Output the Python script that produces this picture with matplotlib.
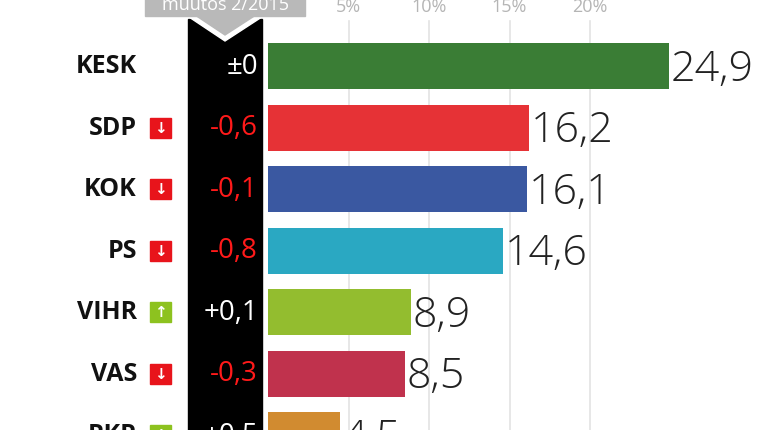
import matplotlib.pyplot as plt
from matplotlib.patches import Rectangle, Polygon

parties = ["KESK", "SDP", "KOK", "PS", "VIHR", "VAS", "RKP"]
support = [24.9, 16.2, 16.1, 14.6, 8.9, 8.5, 4.5]
changes = ["±0", "-0,6", "-0,1", "-0,8", "+0,1", "-0,3", "+0,5"]
trend = [0, -1, -1, -1, 1, -1, 1]
colors = ["#3a7d35", "#e63236", "#3a58a1", "#2aa8c2", "#93bd2f", "#c0324d", "#d18b30"]
ticks = [5, 10, 15, 20]
header = "muutos 2/2015"

W, H = 767, 431
px = 16.1      # pixels per percent
x0 = 268       # pixel of 0 %
y0, dy = 67, 61.5


def X(p):
    return (p - x0) / px


def Y(p):
    return (p - y0) / dy


fig = plt.figure(figsize=(W / 100, H / 100), dpi=100)
ax = fig.add_axes([0, 0, 1, 1])
ax.set_xlim(X(0), X(W))
ax.set_ylim(Y(H), Y(0))
ax.axis("off")
plt.rcParams["font.family"] = ["Open Sans", "DejaVu Sans"]

for t in ticks:
    ax.plot([t, t], [Y(22), Y(H)], color="#e3e3e3", lw=1.2, zorder=0)
    ax.text(t, Y(7), f"{t}%", ha="center", va="center", color="#b5b5b5", fontsize=13)

# black change column with header pointer
ax.add_patch(Rectangle((X(188), Y(20)), X(262) - X(188), Y(H) - Y(20), color="black", zorder=1))
ax.add_patch(Polygon([(X(183), Y(14)), (X(268), Y(14)), (X(225), Y(42))], color="white", zorder=2))
ax.add_patch(Polygon([(X(192), Y(14)), (X(259), Y(14)), (X(225), Y(36))], color="#b9b9b9", zorder=3))
ax.add_patch(Rectangle((X(145), Y(-5)), X(305) - X(145), Y(17) - Y(-5), color="#b9b9b9", zorder=3))
ax.text(X(225), Y(5), header, ha="center", va="center", color="white", fontsize=13, zorder=4)

bar_h = 46 / dy
for i, (name, val, ch, tr, c) in enumerate(zip(parties, support, changes, trend, colors)):
    ax.barh(i, val, height=bar_h, color=c, zorder=2)
    ax.text(val + 0.1, i + 0.04, f"{val:.1f}".replace(".", ","), ha="left", va="center",
            fontsize=31, color="#222222", fontweight="light")
    ax.text(X(137), i, name, ha="right", va="center", fontsize=18, fontweight="bold", color="#111111")
    ax.text(X(258), i, ch, ha="right", va="center", fontsize=20,
            color="#ff1a1a" if tr < 0 else "white", zorder=3)
    if tr != 0:
        sq = "#e8141b" if tr < 0 else "#8dc21f"
        ax.add_patch(Rectangle((X(150), i - 10 / dy), 21 / px, 20 / dy, color=sq, zorder=3))
        ax.text(X(160.5), i, "↓" if tr < 0 else "↑", ha="center", va="center",
                fontsize=11, color="white", fontweight="bold", zorder=4, family="DejaVu Sans")

fig.savefig("out.png", dpi=100)
